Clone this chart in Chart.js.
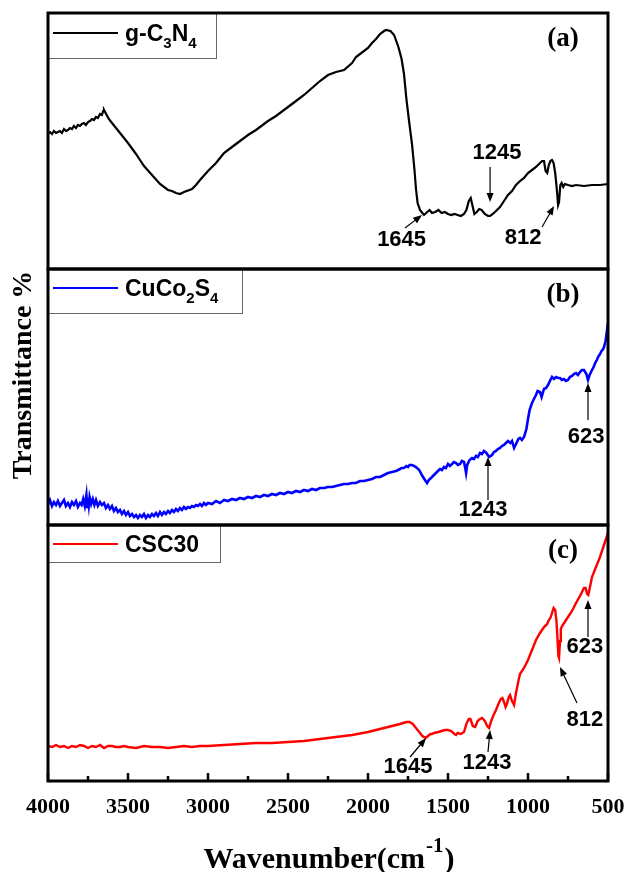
<!DOCTYPE html>
<html><head><meta charset="utf-8">
<script src="https://cdn.jsdelivr.net/npm/chart.js@4/dist/chart.umd.min.js"></script>
<style>html,body{margin:0;padding:0;background:#fff;}canvas{display:block;}</style>
</head><body>
<canvas id="c" width="627" height="872"></canvas>
<script>
// ---------- DATA ----------
const xTickValues = [4000, 3500, 3000, 2500, 2000, 1500, 1000, 500];
const seriesNames = ['g-C3N4', 'CuCo2S4', 'CSC30'];
const panelTags = ['(a)', '(b)', '(c)'];

// (a) g-C3N4
const wnA = [4000,3988,3975,3963,3950,3938,3925,3913,3900,3888,3875,3863,3850,3838,3825,3813,3800,3788,3775,3763,3750,3738,3725,3713,3700,3688,3675,3663,3655,3650,3640,3620,3600,3575,3550,3500,3450,3425,3400,3350,3300,3250,3225,3200,3175,3150,3100,3075,3050,3000,2950,2925,2900,2850,2800,2750,2700,2675,2625,2575,2500,2450,2400,2350,2300,2250,2200,2150,2100,2075,2050,2000,1975,1950,1925,1900,1887,1860,1837,1810,1790,1775,1760,1745,1725,1710,1700,1690,1675,1660,1650,1630,1615,1600,1580,1560,1540,1520,1500,1480,1460,1440,1420,1400,1385,1370,1358,1345,1335,1320,1305,1290,1270,1250,1237,1220,1200,1175,1150,1125,1100,1075,1050,1025,1000,975,950,925,912,900,890,880,870,860,850,840,830,820,812,806,798,790,780,770,750,725,700,650,600,550,500];
const tA  = [136,137,135,138,136,137,138,136,140,138,139,141,140,143,141,144,143,145,146,144,147,148,150,149,152,151,155,154,158,159,156,150,146,141,136,126,115,109,103,94,85,79,78,76,75,77,80,84,89,98,106,111,116,122,128,134,139,142,148,153,162,168,174,181,188,194,197,199,206,212,215,221,226,230,235,238,239,238,234,222,210,195,170,150,125,100,80,66,59,56,54,57,59,56,57,59,56,57,55,54,55,54,53,55,59,68,71,62,55,57,60,59,55,53,53,55,58,62,68,74,78,84,88,91,96,99,102,106,108,108,98,96,104,108,109,106,96,80,64,67,84,86,82,85,84,83,84,83,84,84,85];

// (b) CuCo2S4
const wnB = [4000,3988,3975,3963,3950,3938,3925,3913,3900,3888,3875,3863,3850,3838,3825,3813,3800,3790,3780,3770,3760,3755,3750,3745,3740,3730,3720,3710,3700,3688,3675,3663,3650,3638,3625,3613,3600,3588,3575,3563,3550,3538,3525,3513,3500,3488,3475,3463,3450,3438,3425,3413,3400,3388,3375,3363,3350,3338,3325,3313,3300,3288,3275,3263,3250,3238,3225,3213,3200,3188,3175,3163,3150,3138,3125,3113,3100,3088,3075,3063,3050,3038,3025,3013,3000,2975,2950,2925,2900,2875,2850,2825,2800,2775,2750,2725,2700,2675,2650,2625,2600,2575,2550,2525,2500,2475,2450,2425,2400,2375,2350,2325,2300,2275,2250,2225,2200,2175,2150,2125,2100,2075,2050,2025,2000,1975,1950,1925,1900,1875,1850,1825,1800,1790,1775,1760,1750,1740,1725,1712,1700,1680,1660,1640,1631,1620,1600,1588,1575,1563,1550,1538,1525,1513,1500,1488,1475,1463,1450,1438,1425,1413,1400,1390,1387,1380,1365,1350,1338,1325,1313,1300,1288,1275,1260,1243,1225,1213,1200,1188,1175,1163,1150,1138,1125,1110,1100,1087,1075,1060,1050,1038,1025,1010,1000,990,975,963,950,940,925,915,900,887,875,860,850,838,825,813,800,788,775,763,750,738,725,713,700,688,675,663,650,635,625,615,600,590,580,570,562,550,540,530,525,515,510,505,500];
const tB  = [21,25,19,23,20,24,19,22,25,19,22,18,23,20,24,18,22,20,26,19,30,18,27,20,28,21,26,20,25,19,23,20,22,17,20,16,19,14,17,13,15,11,14,10,13,9,11,8,10,7,10,8,11,7,10,8,11,9,12,9,13,10,13,11,14,12,15,13,16,14,17,15,18,16,18,17,19,18,20,19,21,19,22,20,22,21,24,22,25,24,26,25,27,26,28,27,29,28,30,29,31,30,32,31,33,32,34,33,35,34,36,35,37,37,38,38,39,40,41,41,42,42,44,44,45,46,48,48,50,52,53,54,56,57,57,59,58,60,60,59,58,55,49,44,42,45,48,50,52,54,56,55,58,57,61,59,61,63,62,60,61,64,63,55,52,60,65,67,66,69,68,72,71,74,72,68,70,73,74,76,77,79,80,82,84,82,84,77,81,86,87,85,88,96,106,115,122,126,130,134,133,128,136,137,140,145,148,146,148,147,147,145,146,144,145,148,149,151,152,150,153,155,155,151,145,150,155,158,162,165,168,171,174,176,178,184,190,196,202];

// (c) CSC30
const wnC = [4000,3975,3950,3925,3900,3875,3850,3825,3800,3775,3750,3725,3700,3675,3650,3625,3600,3575,3550,3525,3500,3450,3400,3350,3300,3250,3200,3150,3100,3050,3000,2900,2800,2700,2600,2500,2400,2300,2200,2100,2000,1950,1900,1850,1800,1760,1740,1720,1700,1680,1660,1640,1625,1610,1600,1587,1560,1540,1520,1500,1480,1460,1450,1440,1420,1400,1385,1370,1360,1345,1330,1315,1300,1287,1270,1255,1243,1230,1215,1200,1185,1170,1160,1150,1140,1130,1120,1112,1100,1087,1075,1060,1050,1025,1000,975,950,925,900,880,870,860,850,840,830,822,815,810,806,800,795,787,770,750,725,700,675,650,640,630,623,610,600,575,550,525,500];
const tC  = [35,34,36,34,35,33,35,34,36,35,33,35,34,36,33,35,35,34,34,35,34,33,35,34,34,33,34,35,34,35,35,36,37,38,38,39,40,42,44,46,49,51,53,55,57,59,59,57,53,49,45,43,45,47,47,48,49,50,51,51,50,47,46,48,47,49,57,62,62,55,54,60,62,63,60,55,53,60,66,71,77,82,83,79,74,78,84,86,80,76,88,100,107,113,121,131,141,148,154,157,161,163,168,173,171,160,140,125,123,140,152,155,159,164,170,178,185,193,193,187,186,196,204,214,224,236,248];

// peak annotations (wavenumber / panel value pairs)
const annotations = [
  {panel:0, text:'1645', at:[1790,29], from:[1769,41], to:[1662,54]},
  {panel:0, text:'1245', at:[1194,116], from:[1237,102], to:[1237,67]},
  {panel:0, text:'812',  at:[1031,31], from:[912,42], to:[837,63]},
  {panel:1, text:'1243', at:[1281,15], from:[1250,25], to:[1250,68]},
  {panel:1, text:'623',  at:[637,88],  from:[625,105], to:[625,142]},
  {panel:2, text:'1645', at:[1750,14], from:[1737,24], to:[1637,43]},
  {panel:2, text:'1243', at:[1256,18], from:[1250,29], to:[1237,51]},
  {panel:2, text:'623',  at:[644,134], from:[625,144], to:[625,181]},
  {panel:2, text:'812',  at:[644,61],  from:[694,78], to:[800,114]}
];

// ---------- helpers ----------
const SERIF = '"Liberation Serif", "Times New Roman", serif';
const SANS = '"Liberation Sans", Arial, sans-serif';
const colors = ['#000000', '#0000ff', '#ff0000'];
const widths = [2.2, 2.6, 2.4];
const yIds = ['ya', 'yb', 'yc'];
function pts(xs, ys){ return xs.map((x,i)=>({x:x, y:ys[i]})); }
function legendParts(name){
  if (name === 'CSC30') return [[name,false]];
  const out = []; let buf = '';
  for (let i=0;i<name.length;i++){
    const ch = name[i];
    if (/\d/.test(ch)){ if(buf) out.push([buf,false]); buf=''; out.push([ch,true]); }
    else buf += ch;
  }
  if (buf) out.push([buf,false]);
  return out;
}
function arrow(ctx, x1,y1,x2,y2){
  const ang = Math.atan2(y2-y1, x2-x1), L=9, W=3.5;
  ctx.beginPath(); ctx.moveTo(x1,y1);
  ctx.lineTo(x2 - Math.cos(ang)*L*0.8, y2 - Math.sin(ang)*L*0.8); ctx.stroke();
  ctx.beginPath(); ctx.moveTo(x2,y2);
  ctx.lineTo(x2 - Math.cos(ang)*L + Math.sin(ang)*W, y2 - Math.sin(ang)*L - Math.cos(ang)*W);
  ctx.lineTo(x2 - Math.cos(ang)*L - Math.sin(ang)*W, y2 - Math.sin(ang)*L + Math.cos(ang)*W);
  ctx.closePath(); ctx.fill();
}

const decor = {
  id: 'decor',
  afterDatasetsDraw(chart){
    const ctx = chart.ctx, ca = chart.chartArea, xs = chart.scales.x;
    const ys = yIds.map(id => chart.scales[id]);
    ctx.save();
    ctx.strokeStyle = '#000'; ctx.fillStyle = '#000'; ctx.lineWidth = 1.2;
    ctx.font = 'bold 22px ' + SANS; ctx.textAlign = 'center'; ctx.textBaseline = 'middle';
    annotations.forEach(a => {
      const s = ys[a.panel];
      arrow(ctx, xs.getPixelForValue(a.from[0]), s.getPixelForValue(a.from[1]),
                 xs.getPixelForValue(a.to[0]), s.getPixelForValue(a.to[1]));
      ctx.fillText(a.text, xs.getPixelForValue(a.at[0]), s.getPixelForValue(a.at[1]));
    });
    const boxW = [168, 194, 172], boxH = [45, 44, 37];
    ys.forEach((s, i) => {
      ctx.fillStyle = '#fff'; ctx.fillRect(ca.left, s.top, boxW[i], boxH[i]);
      ctx.strokeStyle = '#666'; ctx.lineWidth = 1;
      ctx.strokeRect(ca.left + 0.5, s.top + 0.5, boxW[i], boxH[i]);
      const ly = s.top + (i === 0 ? 20 : 19);
      ctx.strokeStyle = colors[i]; ctx.lineWidth = 2;
      ctx.beginPath(); ctx.moveTo(ca.left + 5, ly); ctx.lineTo(ca.left + 70, ly); ctx.stroke();
      let x = ca.left + 77;
      ctx.fillStyle = '#000'; ctx.textAlign = 'left'; ctx.textBaseline = 'alphabetic';
      legendParts(seriesNames[i]).forEach(([t, sub]) => {
        ctx.font = sub ? 'bold 15px ' + SANS : 'bold 23px ' + SANS;
        ctx.fillText(t, x, ly + (sub ? 15 : 8));
        x += ctx.measureText(t).width;
      });
      ctx.font = 'bold 27px ' + SERIF; ctx.textAlign = 'center'; ctx.textBaseline = 'middle';
      ctx.fillText(panelTags[i], 563, s.top + 26);
    });
    ctx.strokeStyle = '#000'; ctx.lineWidth = 3;
    ys.forEach(s => ctx.strokeRect(ca.left, s.top, ca.right - ca.left, s.bottom - s.top));
    ctx.lineWidth = 2.5;
    for (let v = 4000; v >= 500; v -= 250){
      const px = xs.getPixelForValue(v);
      const len = (v % 500 === 0) ? 8 : 5;
      ctx.beginPath(); ctx.moveTo(px, ca.bottom); ctx.lineTo(px, ca.bottom - len); ctx.stroke();
    }
    ctx.save();
    ctx.translate(24, 375); ctx.rotate(-Math.PI/2);
    ctx.font = 'bold 28px ' + SERIF; ctx.textAlign = 'center'; ctx.textBaseline = 'middle';
    ctx.fillText('Transmittance %', 0, 0);
    ctx.restore();
    ctx.textAlign = 'left'; ctx.textBaseline = 'alphabetic';
    const main = 'Wavenumber(cm', sup = '-1', close = ')';
    ctx.font = 'bold 30px ' + SERIF; const w1 = ctx.measureText(main).width, w3 = ctx.measureText(close).width;
    ctx.font = 'bold 21px ' + SERIF; const w2 = ctx.measureText(sup).width;
    let x0 = 328 - (w1 + w2 + w3) / 2;
    ctx.font = 'bold 30px ' + SERIF; ctx.fillText(main, x0, 868);
    ctx.font = 'bold 21px ' + SERIF; ctx.fillText(sup, x0 + w1 + 1, 852);
    ctx.font = 'bold 30px ' + SERIF; ctx.fillText(close, x0 + w1 + w2 + 2, 868);
    ctx.restore();
  }
};

const yScale = () => ({
  type: 'linear', position: 'left', stack: 'panels', stackWeight: 1, offset: false,
  min: 0, max: 256, display: true,
  ticks: {display: false}, grid: {display: false, drawTicks: false}, border: {display: false},
  afterFit(s){ s.width = 0; s.paddingTop = 0; s.paddingBottom = 0; }
});

new Chart(document.getElementById('c'), {
  type: 'line',
  data: {
    datasets: [
      {label: seriesNames[0], data: pts(wnA, tA), borderColor: colors[0], borderWidth: widths[0], yAxisID: 'ya'},
      {label: seriesNames[1], data: pts(wnB, tB), borderColor: colors[1], borderWidth: widths[1], yAxisID: 'yb'},
      {label: seriesNames[2], data: pts(wnC, tC), borderColor: colors[2], borderWidth: widths[2], yAxisID: 'yc'}
    ].map(d => Object.assign(d, {xAxisID: 'x', pointRadius: 0, tension: 0, fill: false}))
  },
  options: {
    responsive: false, animation: false, devicePixelRatio: 1,
    layout: {padding: {left: 48, right: 19, top: 13, bottom: 0}},
    plugins: {legend: {display: false}, tooltip: {enabled: false}},
    scales: {
      x: {
        type: 'linear', position: 'bottom', reverse: true, min: 500, max: 4000,
        afterBuildTicks(s){ s.ticks = xTickValues.map(v => ({value: v})); },
        ticks: {color: '#000', padding: 13, maxRotation: 0, autoSkip: false,
                font: {family: SERIF, weight: 'bold', size: 22}, callback: v => String(v)},
        grid: {display: false, drawTicks: false}, border: {display: false},
        afterFit(s){ s.height = 91; s.paddingLeft = 0; s.paddingRight = 0; }
      },
      yc: yScale(),
      yb: yScale(),
      ya: yScale()
    }
  },
  plugins: [decor]
});
</script>
</body></html>
